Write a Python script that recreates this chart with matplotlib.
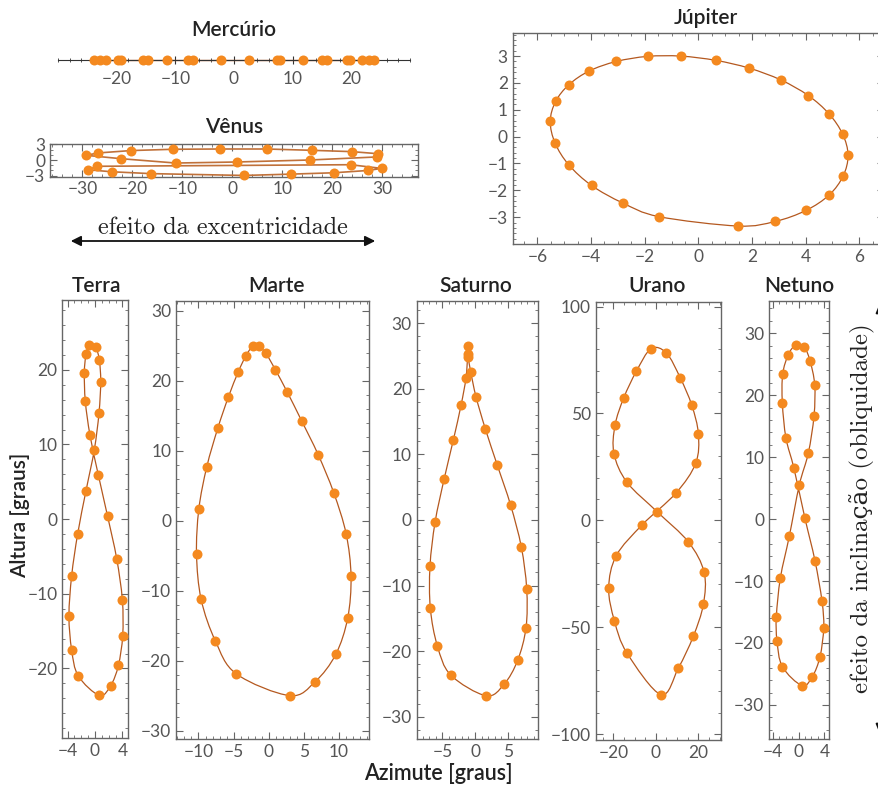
import numpy as np
import matplotlib
matplotlib.use("Agg")
import matplotlib.pyplot as plt
from matplotlib.path import Path
from matplotlib.patches import PathPatch, FancyArrowPatch
from matplotlib.ticker import MultipleLocator, FixedLocator

plt.rcParams['font.family'] = ['Lato', 'DejaVu Sans']

# ---- data (azimute, altura in graus) ----
merc_x = [-23.8, -22.9, -21.8, -19.8, -19.2, -15.5, -14.6, -11.5, -7.8, -7.0, -2.3,
          2.6, 7.3, 7.9, 11.7, 15.0, 15.8, 19.3, 19.8, 21.9, 23.0, 23.9]
merc_y = [0.0] * len(merc_x)

# venus: two sweeps (upper and lower), each closed
ven_a_x = [-29.3, -26.8, -20.3, -11.8, -2.5, 6.9, 15.9, 23.9, 29.2, 28.9, 15.5, 0.9, -11.3, -22.3]
ven_a_y = [0.9, 1.35, 1.8, 2.05, 2.1, 2.1, 1.85, 1.6, 1.2, 0.58, 0.0, -0.38, -0.58, 0.25]
ven_b_x = [-27.1, 23.7, 29.9, 27.2, 20.3, 11.7, 2.3, -16.3, -24.1, -28.8]
ven_b_y = [-1.2, -0.9, -1.6, -2.0, -2.44, -2.7, -2.95, -2.6, -2.25, -1.87]

jup_x = [-0.65, 0.66, 1.90, 3.08, 4.10, 4.87, 5.38, 5.58, 5.40, 4.88, 4.01, 2.86, 1.48,
         -1.47, -2.82, -3.98, -4.83, -5.34, -5.52, -5.32, -4.82, -4.06, -3.06, -1.89]
jup_y = [3.0, 2.84, 2.55, 2.11, 1.53, 0.85, 0.09, -0.69, -1.46, -2.17, -2.75, -3.16, -3.33,
         -2.98, -2.47, -1.82, -1.05, -0.24, 0.57, 1.31, 1.94, 2.45, 2.80, 2.99]

terra_x = [-0.83, -1.31, -1.55, -1.41, -0.73, 0.49, 1.84, 3.16, 3.98, 4.03, 3.4, 2.28,
           0.63, -2.43, -3.4, -3.79, -3.4, -2.52, -1.31, -0.1, 0.58, 0.83, 0.63, 0.1]
terra_y = [23.3, 22.1, 19.6, 15.8, 11.25, 5.9, 0.36, -5.3, -10.8, -15.6, -19.6, -22.3,
           -23.6, -21.0, -17.5, -12.95, -7.6, -1.96, 3.8, 9.3, 14.2, 18.4, 21.3, 23.0]

marte_x = [-1.39, -2.29, -3.24, -4.33, -5.74, -7.26, -8.82, -9.95, -10.28, -9.62, -7.59,
           -4.61, 3.0, 6.6, 9.53, 11.23, 11.7, 11.0, 9.24, 7.02, 4.66, 2.62, 0.92, -0.4]
marte_y = [24.9, 24.9, 23.6, 21.3, 17.7, 13.2, 7.7, 1.67, -4.77, -11.26, -17.2,
           -21.9, -25.0, -23.0, -19.1, -13.9, -7.92, -1.86, 4.0, 9.45, 14.3, 18.4, 21.6, 23.9]

sat_x = [-1.12, -1.12, -1.38, -2.14, -3.32, -4.74, -6.12, -6.89, -6.84, -5.77, -3.72, 1.68,
         4.44, 6.53, 7.81, 7.91, 7.09, 5.46, 3.42, 1.58, 0.15, -0.66, -1.02]
sat_y = [26.5, 25.3, 21.7, 17.5, 12.2, 6.2, -0.36, -7.02, -13.47, -19.17, -23.64, -26.8,
         -25.06, -21.4, -16.4, -10.47, -4.12, 2.24, 8.34, 13.9, 18.8, 22.6, 24.8]

urano_x = [-2.27, -9.18, -15.1, -19.2, -19.7, -13.6, 0.55, 15.3, 22.7, 22.35, 17.6, 10.6,
           2.43, -13.6, -19.5, -22.2, -18.6, -6.35, 9.5, 18.75, 20.0, 16.9, 11.5, 4.94]
urano_y = [80.3, 69.7, 57.3, 44.5, 31.2, 17.8, 4.06, -10.14, -24.3, -39.3, -54.3, -69.1,
           -81.6, -62.1, -47.0, -31.7, -16.5, -2.03, 12.8, 26.7, 40.4, 53.8, 66.6, 78.3]

net_x = [-0.44, -1.57, -2.45, -2.5, -1.94, -0.7, 1.0, 2.55, 3.64, 3.9, 3.33, 2.14,
         0.54, -2.5, -3.33, -3.43, -2.81, -1.42, 0.13, 1.52, 2.4, 2.5, 1.78, 0.85]
net_y = [28.06, 26.56, 23.39, 18.71, 13.06, 8.17, 0.11, -6.72, -13.28, -17.53, -22.2, -25.43,
         -26.88, -23.82, -19.62, -15.75, -9.52, -2.74, 5.54, 10.65, 16.67, 21.72, 25.54, 27.85]

DOT = '#f4891f'
LINE = '#b4581f'
FRAME = '#666666'
TICKSIZE = 12.5
W, H = 879, 787

fig = plt.figure(figsize=(W / 100, H / 100), dpi=100)


def px_axes(x0, y0, x1, y1):
    return fig.add_axes([x0 / W, 1 - y1 / H, (x1 - x0) / W, (y1 - y0) / H])


def closed_curve(xs, ys):
    # catmull-rom through the points, handed to matplotlib as bezier segments
    P = np.column_stack([xs, ys])
    n = len(P)
    verts = [P[0]]
    codes = [Path.MOVETO]
    for i in range(n):
        p0, p1, p2, p3 = P[i - 1], P[i], P[(i + 1) % n], P[(i + 2) % n]
        verts += [p1 + (p2 - p0) / 6, p2 - (p3 - p1) / 6, p2]
        codes += [Path.CURVE4] * 3
    return Path(verts, codes)


def frame(ax, mx, nx, my, ny):
    for s in ax.spines.values():
        s.set_color(FRAME)
        s.set_linewidth(1.0)
    ax.xaxis.set_major_locator(MultipleLocator(mx))
    ax.xaxis.set_minor_locator(MultipleLocator(nx))
    ax.yaxis.set_major_locator(MultipleLocator(my))
    ax.yaxis.set_minor_locator(MultipleLocator(ny))
    ax.tick_params(which='both', direction='in', top=True, right=True,
                   color=FRAME, labelcolor='#555555', labelsize=TICKSIZE)
    ax.tick_params(which='major', length=5, width=0.8)
    ax.tick_params(which='minor', length=2.5, width=0.6)


def analemma(ax, xs, ys):
    ax.add_patch(PathPatch(closed_curve(xs, ys), fill=False, edgecolor=LINE, lw=0.9, zorder=2))
    ax.plot(xs, ys, 'o', color=DOT, ms=7.2, mec='none', zorder=3, clip_on=False)


# ---- Mercurio ----
ax = px_axes(58, 50, 410, 70)
ax.set_xlim(-30, 30)
ax.set_ylim(-1, 1)
for k in ['top', 'left', 'right']:
    ax.spines[k].set_visible(False)
ax.spines['bottom'].set_position(('data', 0))
ax.spines['bottom'].set_color('#333333')
ax.set_yticks([])
ax.xaxis.set_major_locator(FixedLocator([-20, -10, 0, 10, 20]))
ax.xaxis.set_minor_locator(MultipleLocator(2))
ax.tick_params(axis='x', which='both', direction='inout', color='#333333',
               labelcolor='#555555', labelsize=TICKSIZE)
ax.tick_params(axis='x', which='major', length=6, width=0.8, pad=5)
ax.tick_params(axis='x', which='minor', length=3, width=0.6)
ax.plot(merc_x, merc_y, '-', color=LINE, lw=1.0, zorder=2)
ax.plot(merc_x, merc_y, 'o', color=DOT, ms=7.2, mec='none', zorder=3, clip_on=False)
ax.patch.set_alpha(0)

# ---- Venus ----
ax = px_axes(50, 143.5, 418, 176.5)
ax.set_xlim(-36.5, 37.2)
ax.set_ylim(-3.15, 3.15)
frame(ax, 10, 2, 3, 1)
for vx, vy in [(ven_a_x, ven_a_y), (ven_b_x, ven_b_y)]:
    ax.plot(vx + vx[:1], vy + vy[:1], '-', color='#c0713a', lw=1.2, zorder=2)
    ax.plot(vx, vy, 'o', color=DOT, ms=7.2, mec='none', zorder=3, clip_on=False)

# ---- Jupiter ----
ax = px_axes(512.7, 33.3, 884, 244)
ax.set_xlim(-6.92, 6.92)
ax.set_ylim(-4.0, 3.85)
frame(ax, 2, 0.5, 1, 0.2)
ax.yaxis.set_major_locator(FixedLocator([-3, -2, -1, 0, 1, 2, 3]))
analemma(ax, jup_x, jup_y)

# ---- bottom row ----
panels = [
    ((62.3, 300, 127.7, 738.3), (-4.76, 4.76), (-29.35, 29.35), (4, 1, 10, 2), terra_x, terra_y),
    ((176, 301, 369.3, 739), (-13.2, 14.3), (-31.2, 31.4), (5, 1, 10, 2), marte_x, marte_y),
    ((416.7, 301, 538.3, 739), (-8.93, 9.69), (-33.4, 33.4), (5, 1, 10, 2), sat_x, sat_y),
    ((595.7, 302.3, 720.7, 740), (-28.3, 30.5), (-102.8, 102), (20, 5, 50, 10), urano_x, urano_y),
    ((769, 301, 829, 739), (-4.57, 4.72), (-35.5, 35.2), (4, 1, 10, 2), net_x, net_y),
]
for box, xl, yl, loc, px, py in panels:
    ax = px_axes(*box)
    ax.set_xlim(*xl)
    ax.set_ylim(*yl)
    frame(ax, *loc)
    analemma(ax, px, py)

# ---- titles and labels ----
titles = [('Mercúrio', 234, 30), ('Vênus', 234, 127), ('Júpiter', 706, 18),
          ('Terra', 97, 286), ('Marte', 277, 286), ('Saturno', 476, 286),
          ('Urano', 657, 286), ('Netuno', 799, 286)]
for t, x, y in titles:
    fig.text(x / W, 1 - y / H, t, ha='center', va='center', fontsize=15,
             fontweight='semibold', color='#222222')

fig.text(20 / W, 1 - 515 / H, 'Altura [graus]', rotation=90, ha='center', va='center',
         fontsize=15, fontweight='semibold', color='#222222')
fig.text(438 / W, 1 - 773 / H, 'Azimute [graus]', ha='center', va='center',
         fontsize=15.5, fontweight='semibold', color='#222222')

serif = ['cmr10', 'DejaVu Serif']
fig.text(223 / W, 1 - 228 / H, 'efeito da excentricidade', ha='center', va='center',
         fontsize=17.5, family=serif, color='#222222')
fig.text(862 / W, 1 - 508 / H, 'efeito da inclinação (obliquidade)', rotation=90,
         ha='center', va='center', fontsize=18, family=serif, color='#222222')

fig.add_artist(FancyArrowPatch(
    (68 / W, 1 - 241 / H), (378 / W, 1 - 241 / H), transform=fig.transFigure,
    arrowstyle='<|-|>,head_length=6,head_width=3', color='#111111', lw=1.3))
fig.add_artist(FancyArrowPatch(
    (880 / W, 1 - 300 / H), (880 / W, 1 - 737 / H), transform=fig.transFigure,
    arrowstyle='<|-|>,head_length=6,head_width=2.5', color='#111111', lw=1.3))

fig.savefig('out.png', dpi=100)
